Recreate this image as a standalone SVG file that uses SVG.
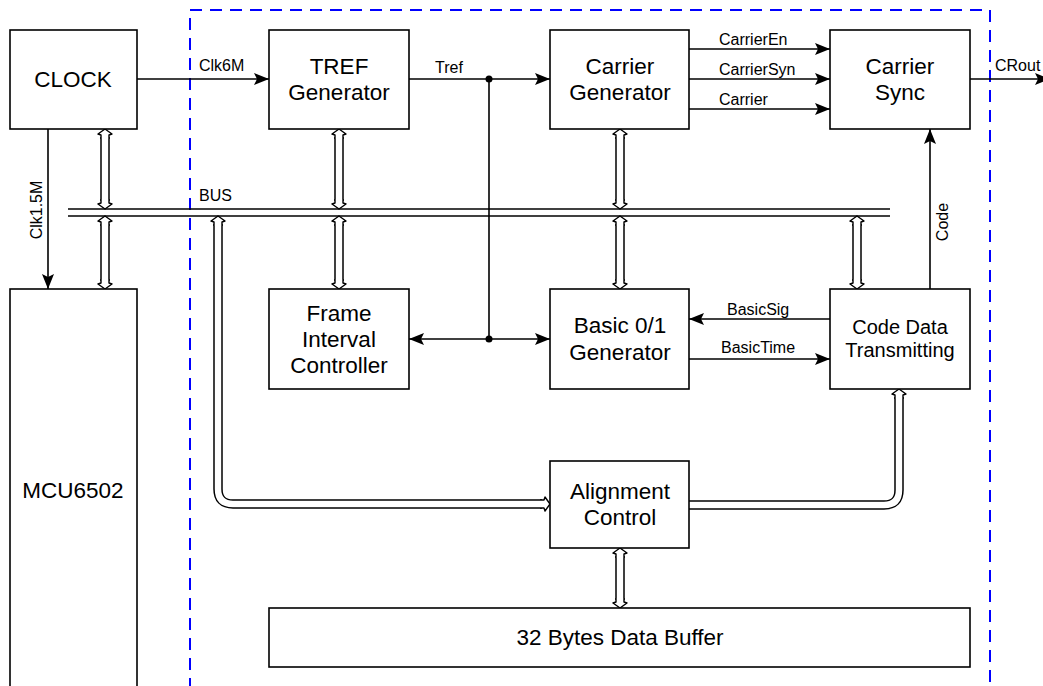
<svg xmlns="http://www.w3.org/2000/svg" width="1043" height="686" viewBox="0 0 1043 686">
<style>
.box{fill:#fff;stroke:#000;stroke-width:1.6}
.t{font-family:"Liberation Sans",Arial,sans-serif;font-size:22.5px;fill:#000;text-anchor:middle}
.s{font-family:"Liberation Sans",Arial,sans-serif;font-size:16px;fill:#000}
.ln{fill:none;stroke:#000;stroke-width:1.6}
.dbo{fill:none;stroke:#000;stroke-width:9.5}
.dbi{fill:none;stroke:#fff;stroke-width:6.5}
.dh{fill:#fff;stroke:#000;stroke-width:1.4;stroke-linejoin:round}
</style>
<defs>
<marker id="ah" markerWidth="16" markerHeight="12" refX="15" refY="6" orient="auto" markerUnits="userSpaceOnUse">
<path d="M0,0 L15,6 L0,12 L3,6 Z" fill="#000"/>
</marker>
<marker id="ahs" markerWidth="16" markerHeight="12" refX="15" refY="6" orient="auto-start-reverse" markerUnits="userSpaceOnUse">
<path d="M0,0 L15,6 L0,12 L3,6 Z" fill="#000"/>
</marker>
<path id="dh" d="M-4,-10 L-4,-6 L-7,-5 L0,0 L7,-5 L4,-6 L4,-10"/>
</defs>
<rect width="1043" height="686" fill="#fff"/>
<rect x="190" y="10" width="800" height="720" fill="none" stroke="#0000ff" stroke-width="2" stroke-dasharray="12 8"/>

<g id="connectors">
<line class="ln" x1="137" y1="79" x2="269" y2="79" marker-end="url(#ah)"/>
<line class="ln" x1="409" y1="79" x2="550" y2="79" marker-end="url(#ah)"/>
<line class="ln" x1="489" y1="79" x2="489" y2="339"/>
<line class="ln" x1="409" y1="339" x2="550" y2="339" marker-start="url(#ahs)" marker-end="url(#ah)"/>
<circle cx="489" cy="79" r="3.5"/>
<circle cx="489" cy="339" r="3.5"/>
<line class="ln" x1="689" y1="49" x2="830" y2="49" marker-end="url(#ah)"/>
<line class="ln" x1="689" y1="79" x2="830" y2="79" marker-end="url(#ah)"/>
<line class="ln" x1="689" y1="109" x2="830" y2="109" marker-end="url(#ah)"/>
<line class="ln" x1="970" y1="79" x2="1050" y2="79" marker-end="url(#ah)"/>
<line class="ln" x1="48" y1="129" x2="48" y2="289" marker-end="url(#ah)"/>
<line class="ln" x1="930" y1="289" x2="930" y2="129" marker-end="url(#ah)"/>
<line class="ln" x1="830" y1="319" x2="689" y2="319" marker-end="url(#ah)"/>
<line class="ln" x1="689" y1="359" x2="830" y2="359" marker-end="url(#ah)"/>
<!-- bus -->
<line class="ln" x1="68" y1="209" x2="890" y2="209"/>
<line class="ln" x1="68" y1="216" x2="890" y2="216"/>
<!-- double arrows -->
<g>
<path class="dbo" d="M105,137 V201 M105,224 V281 M339,137 V201 M339,224 V281 M620,137 V201 M620,224 V281 M857,224 V281 M620,556 V600"/>
<path class="dbo" d="M218,224 V489 Q218,504 233,504 H542"/>
<path class="dbo" d="M689,505 H884 Q899,505 899,490 V397"/>
<path class="dbi" d="M105,135 V203 M105,222 V283 M339,135 V203 M339,222 V283 M620,135 V203 M620,222 V283 M857,222 V283 M620,554 V602"/>
<path class="dbi" d="M218,222 V489 Q218,504 233,504 H544"/>
<path class="dbi" d="M688,505 H884 Q899,505 899,490 V395"/>
<use href="#dh" class="dh" transform="translate(105,129) rotate(180)"/>
<use href="#dh" class="dh" transform="translate(105,209)"/>
<use href="#dh" class="dh" transform="translate(105,216) rotate(180)"/>
<use href="#dh" class="dh" transform="translate(105,289)"/>
<use href="#dh" class="dh" transform="translate(339,129) rotate(180)"/>
<use href="#dh" class="dh" transform="translate(339,209)"/>
<use href="#dh" class="dh" transform="translate(339,216) rotate(180)"/>
<use href="#dh" class="dh" transform="translate(339,289)"/>
<use href="#dh" class="dh" transform="translate(620,129) rotate(180)"/>
<use href="#dh" class="dh" transform="translate(620,209)"/>
<use href="#dh" class="dh" transform="translate(620,216) rotate(180)"/>
<use href="#dh" class="dh" transform="translate(620,289)"/>
<use href="#dh" class="dh" transform="translate(857,216) rotate(180)"/>
<use href="#dh" class="dh" transform="translate(857,289)"/>
<use href="#dh" class="dh" transform="translate(620,548) rotate(180)"/>
<use href="#dh" class="dh" transform="translate(620,608)"/>
<use href="#dh" class="dh" transform="translate(218,216) rotate(180)"/>
<use href="#dh" class="dh" transform="translate(550,504) rotate(-90)"/>
<use href="#dh" class="dh" transform="translate(899,389) rotate(180)"/>
</g>
<text class="s" x="199" y="71">Clk6M</text>
<text class="s" x="435" y="73">Tref</text>
<text class="s" x="199" y="201">BUS</text>
<text class="s" x="719" y="45">CarrierEn</text>
<text class="s" x="719" y="75">CarrierSyn</text>
<text class="s" x="719" y="105">Carrier</text>
<text class="s" x="995" y="71">CRout</text>
<text class="s" x="727" y="315">BasicSig</text>
<text class="s" x="721" y="353">BasicTime</text>
<text class="s" text-anchor="middle" transform="translate(42,210) rotate(-90)">Clk1.5M</text>
<text class="s" text-anchor="middle" transform="translate(948,222) rotate(-90)">Code</text>
</g>

<g id="clock"><rect class="box" x="10" y="30" width="127" height="99"/><text class="t" x="73" y="87">CLOCK</text></g>
<g id="mcu"><rect class="box" x="10" y="289" width="127" height="420"/><text class="t" x="73" y="498">MCU6502</text></g>
<g id="tref"><rect class="box" x="269" y="30" width="140" height="99"/><text class="t" x="339" y="74">TREF</text><text class="t" x="339" y="100">Generator</text></g>
<g id="carriergen"><rect class="box" x="550" y="30" width="139" height="99"/><text class="t" x="620" y="74">Carrier</text><text class="t" x="620" y="100">Generator</text></g>
<g id="carriersync"><rect class="box" x="830" y="30" width="140" height="99"/><text class="t" x="900" y="74">Carrier</text><text class="t" x="900" y="100">Sync</text></g>
<g id="frame"><rect class="box" x="269" y="289" width="140" height="100"/><text class="t" x="339" y="321">Frame</text><text class="t" x="339" y="347">Interval</text><text class="t" x="339" y="373">Controller</text></g>
<g id="basic"><rect class="box" x="550" y="289" width="139" height="100"/><text class="t" x="620" y="333">Basic 0/1</text><text class="t" x="620" y="360">Generator</text></g>
<g id="codedata"><rect class="box" x="830" y="289" width="140" height="100"/><text class="t" x="900" y="334" style="font-size:20px">Code Data</text><text class="t" x="900" y="357" style="font-size:20px">Transmitting</text></g>
<g id="align"><rect class="box" x="550" y="461" width="139" height="87"/><text class="t" x="620" y="499">Alignment</text><text class="t" x="620" y="525">Control</text></g>
<g id="buffer"><rect class="box" x="269" y="608" width="701" height="59"/><text class="t" x="620" y="645">32 Bytes Data Buffer</text></g>
</svg>
